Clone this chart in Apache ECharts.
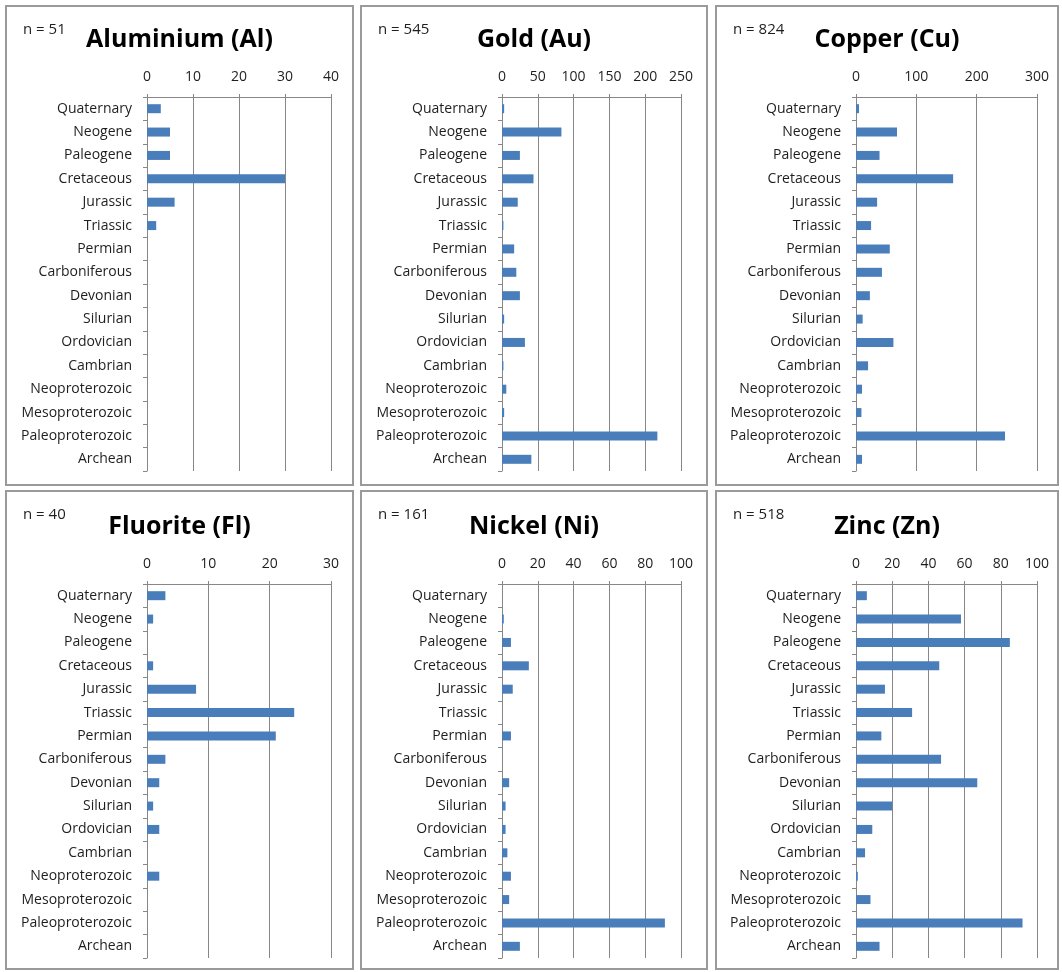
<!DOCTYPE html>
<html>
<head>
<meta charset="utf-8">
<script src="https://cdn.jsdelivr.net/npm/echarts@6/dist/echarts.min.js"></script>
<style>
  html, body { margin: 0; padding: 0; background: #ffffff; }
  #chart { width: 1062px; height: 972px; }
</style>
</head>
<body>
<div id="chart"></div>
<script>
// Geological periods, youngest first
const periods = ['Quaternary', 'Neogene', 'Paleogene', 'Cretaceous', 'Jurassic', 'Triassic',
  'Permian', 'Carboniferous', 'Devonian', 'Silurian', 'Ordovician', 'Cambrian',
  'Neoproterozoic', 'Mesoproterozoic', 'Paleoproterozoic', 'Archean'];

// Number of deposits per period for each commodity
const aluminium = [3, 5, 5, 30, 6, 2, 0, 0, 0, 0, 0, 0, 0, 0, 0, 0];
const gold      = [3, 83, 25, 44, 22, 2, 17, 20, 25, 3, 32, 2, 6, 3, 217, 41];
const copper    = [5, 68, 39, 161, 35, 25, 56, 43, 23, 11, 62, 20, 10, 9, 247, 10];
const fluorite  = [3, 1, 0, 1, 8, 24, 21, 3, 2, 1, 2, 0, 2, 0, 0, 0];
const nickel    = [0, 1, 5, 15, 6, 0, 5, 0, 4, 2, 2, 3, 5, 4, 91, 10];
const zinc      = [6, 58, 85, 46, 16, 31, 14, 47, 67, 20, 9, 5, 1, 8, 92, 13];

const panelTitles = ['Aluminium (Al)', 'Gold (Au)', 'Copper (Cu)', 'Fluorite (Fl)', 'Nickel (Ni)', 'Zinc (Zn)'];
const sampleCounts = [51, 545, 824, 40, 161, 518];
const axisMax  = [40, 250, 300, 30, 100, 100];
const axisStep = [10, 50, 100, 10, 20, 20];
const seriesData = [aluminium, gold, copper, fluorite, nickel, zinc];

// Panel frame and plot-area layout (pixels)
const layout = {
  colLeft: [6, 361, 716], colWidth: [347, 346, 342],
  rowTop: [6, 491], rowHeight: [479, 478],
  gridLeft: [147, 502, 856], gridWidth: [184, 179, 181],
  gridTop: [97, 584], gridHeight: 374
};

const FONT = '"Open Sans", Lato, sans-serif';
const AXIS_GREY = '#878787';
const TEXT = '#1e1e1e';
const BAR = '#4a7ebb';

const grids = [], xAxes = [], yAxes = [], series = [], graphics = [];

seriesData.forEach((vals, i) => {
  const col = i % 3, row = Math.floor(i / 3);
  const pl = layout.colLeft[col], pw = layout.colWidth[col];
  const pt = layout.rowTop[row], ph = layout.rowHeight[row];

  // panel frame
  graphics.push({
    type: 'rect', silent: true, z: -1,
    shape: { x: pl, y: pt, width: pw, height: ph },
    style: { fill: '#ffffff', stroke: '#9a9a9a', lineWidth: 2 }
  });
  // element name
  graphics.push({
    type: 'text', silent: true,
    x: pl + pw / 2, y: pt + (row === 0 ? 34 : 36),
    style: { text: panelTitles[i], font: 'bold 25px ' + FONT, fill: '#000000',
      textAlign: 'center', textVerticalAlign: 'middle' }
  });
  // sample size
  graphics.push({
    type: 'text', silent: true,
    x: pl + 17, y: pt + 24,
    style: { text: 'n = ' + sampleCounts[i], font: '15px ' + FONT, fill: TEXT,
      textAlign: 'left', textVerticalAlign: 'middle' }
  });

  grids.push({
    left: layout.gridLeft[col], top: layout.gridTop[row],
    width: layout.gridWidth[col], height: layout.gridHeight,
    containLabel: false
  });

  xAxes.push({
    gridIndex: i, type: 'value', position: 'top',
    min: 0, max: axisMax[i], interval: axisStep[i],
    axisLine: { show: true, lineStyle: { color: AXIS_GREY, width: 1 } },
    axisTick: { show: true, length: 3, lineStyle: { color: AXIS_GREY } },
    axisLabel: { color: TEXT, fontSize: 14, fontFamily: FONT, margin: 13 },
    splitLine: { show: true, lineStyle: { color: AXIS_GREY, width: 1 } }
  });

  yAxes.push({
    gridIndex: i, type: 'category', data: periods, inverse: true,
    axisLine: { show: true, lineStyle: { color: AXIS_GREY, width: 1 } },
    axisTick: { show: true, length: 4, lineStyle: { color: AXIS_GREY } },
    axisLabel: { color: TEXT, fontSize: 14, fontFamily: FONT, margin: 15 },
    splitLine: { show: false }
  });

  series.push({
    type: 'bar', xAxisIndex: i, yAxisIndex: i,
    data: vals, barWidth: 9,
    itemStyle: { color: BAR },
    silent: true
  });
});

const chart = echarts.init(document.getElementById('chart'), null, { renderer: 'canvas' });
chart.setOption({
  backgroundColor: '#ffffff',
  animation: false,
  graphic: graphics,
  grid: grids,
  xAxis: xAxes,
  yAxis: yAxes,
  series: series
});
</script>
</body>
</html>
